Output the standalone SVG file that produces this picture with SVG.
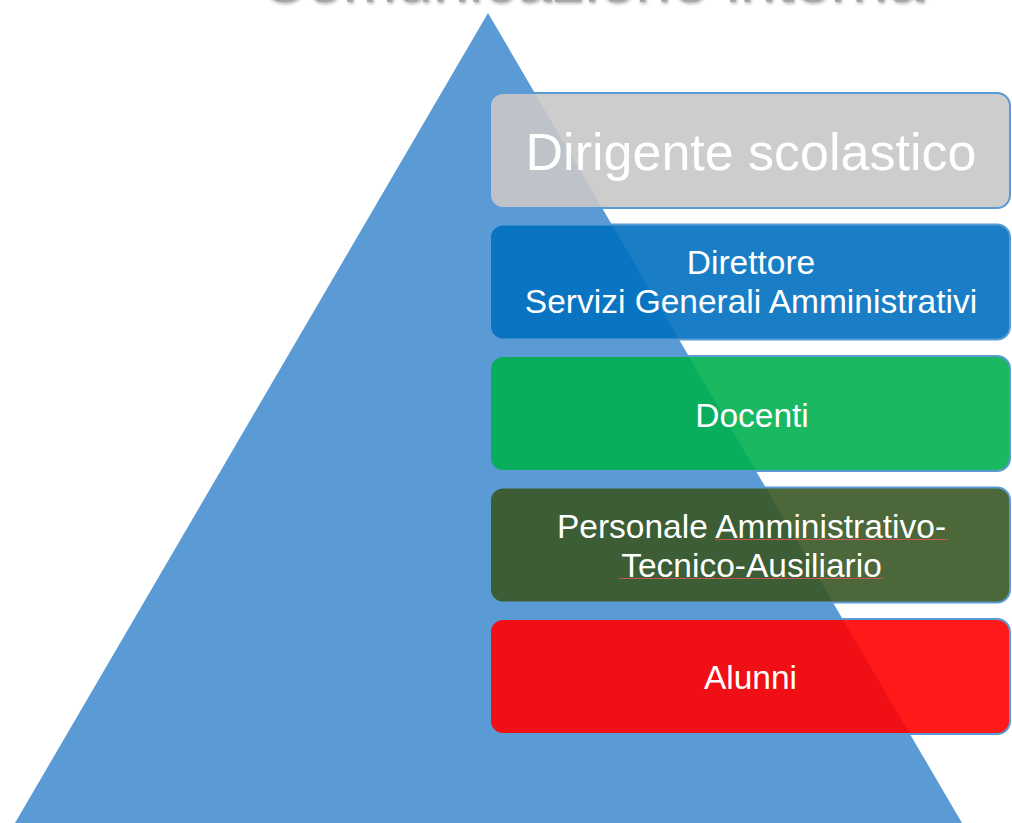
<svg xmlns="http://www.w3.org/2000/svg" width="1012" height="823" viewBox="0 0 1012 823">
  <defs>
    <filter id="soft" x="-5%" y="-50%" width="110%" height="200%">
      <feDropShadow dx="1" dy="1.5" stdDeviation="1.5" flood-color="#000" flood-opacity="0.3"/>
    </filter>
  </defs>
  <style>
    .box { stroke: #5B9BD5; stroke-width: 2; fill-opacity: 0.9; }
    .lbl { font-family: "Liberation Sans", Arial, sans-serif; fill: #FFFFFF; text-anchor: middle; }
    .sm { font-size: 33.5px; }
    .squig { stroke: #C9544F; stroke-width: 1; fill: none; }
  </style>
  <rect x="0" y="0" width="1012" height="823" fill="#FFFFFF"/>
  <g id="title">
    <text x="592" y="1.5" font-family="Liberation Sans, Arial, sans-serif" font-size="65" fill="#A6A6A6" text-anchor="middle" filter="url(#soft)">Comunicazione interna</text>
  </g>
  <g id="pyramid">
    <polygon points="488,13 15,823 962,823" fill="#5B9BD5"/>
  </g>
  <g id="connectors"></g>
  <g id="node-dirigente">
    <rect class="box" x="490" y="93" width="520" height="115" rx="13" fill="#C8C8C8"/>
    <text class="lbl" x="751" y="170" font-size="52">Dirigente scolastico</text>
  </g>
  <g id="node-dsga">
    <rect class="box" x="490" y="224.5" width="520" height="115" rx="13" fill="#0070C0"/>
    <text class="lbl sm" x="751" y="274">Direttore</text>
    <text class="lbl sm" x="751" y="313">Servizi Generali Amministrativi</text>
  </g>
  <g id="node-docenti">
    <rect class="box" x="490" y="356" width="520" height="115" rx="13" fill="#00B050"/>
    <text class="lbl sm" x="752" y="427">Docenti</text>
  </g>
  <g id="node-ata">
    <rect class="box" x="490" y="487.5" width="520" height="115" rx="13" fill="#385723"/>
    <text class="lbl sm" x="751.5" y="538">Personale Amministrativo-</text>
    <text class="lbl sm" x="751.5" y="577">Tecnico-Ausiliario</text>
    <line class="squig" x1="715" y1="539.5" x2="948" y2="539.5"/>
    <line class="squig" x1="619" y1="578.5" x2="883" y2="578.5"/>
  </g>
  <g id="node-alunni">
    <rect class="box" x="490" y="619" width="520" height="115" rx="13" fill="#FF0000"/>
    <text class="lbl sm" x="750.5" y="689">Alunni</text>
  </g>
</svg>
